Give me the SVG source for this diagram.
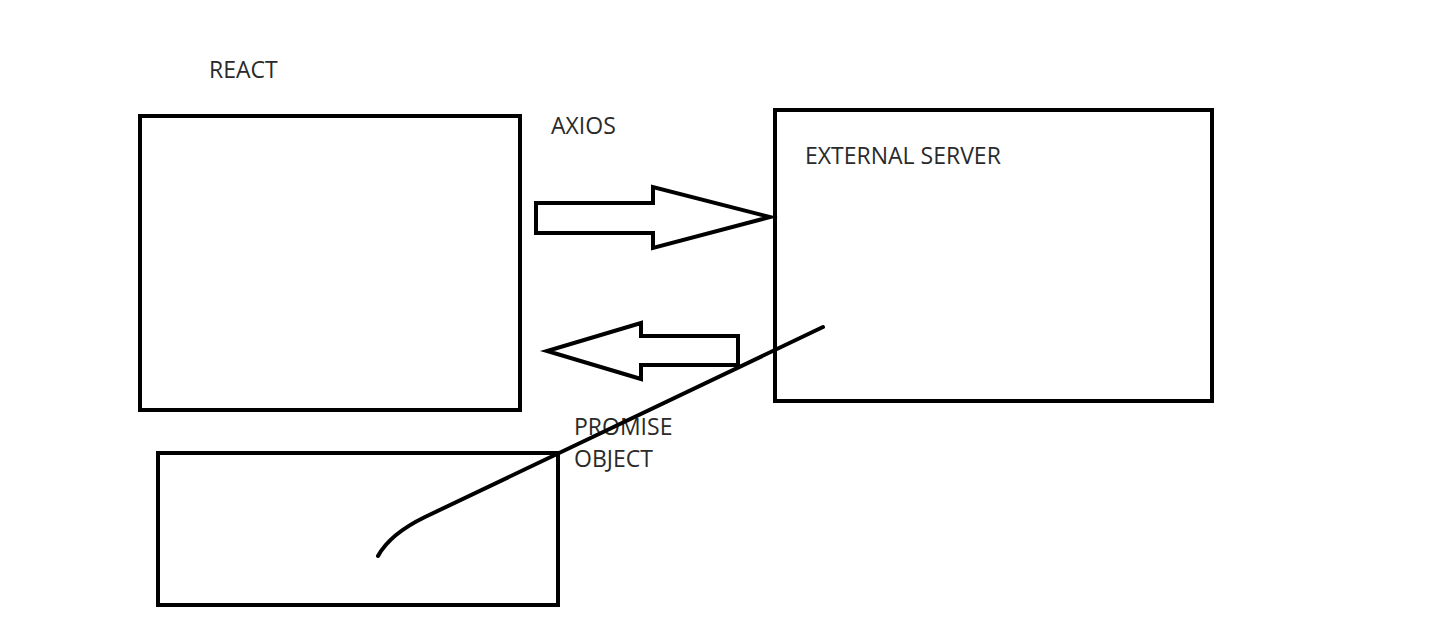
<svg xmlns="http://www.w3.org/2000/svg" width="1443" height="633" viewBox="0 0 1443 633">
<style>
.box{fill:none;stroke:#000;stroke-width:4}
.arr{fill:none;stroke:#000;stroke-width:4;stroke-linejoin:miter}
.lbl{font-family:"Open Sans","Noto Sans",sans-serif;font-size:23px;fill:#2a2a2a}
.ln{fill:none;stroke:#000;stroke-width:4;stroke-linecap:round}
</style>
<rect width="1443" height="633" fill="#fff"/>
<g id="react">
<rect class="box" x="140" y="116" width="380" height="294"/>
<text class="lbl" x="209" y="78">REACT</text>
</g>
<g id="external-server">
<rect class="box" x="775" y="110" width="437" height="291"/>
<text class="lbl" x="805" y="164">EXTERNAL SERVER</text>
</g>
<g id="promise-box">
<rect class="box" x="158" y="453" width="400" height="152"/>
</g>
<g id="connectors">
<g id="axios-arrow">
<polygon class="arr" points="536,203 653,203 653,187 770,217 653,248 653,233 536,233"/>
<text class="lbl" x="551" y="134">AXIOS</text>
</g>
<g id="promise-arrow">
<polygon class="arr" points="738,336 641,336 641,323 547,351 641,379 641,365 738,365"/>
<text class="lbl" x="574" y="435">PROMISE</text>
<text class="lbl" x="574" y="467">OBJECT</text>
</g>
<path class="ln" d="M823,327 L425,517 Q390,534 378,556"/>
</g>
</svg>
